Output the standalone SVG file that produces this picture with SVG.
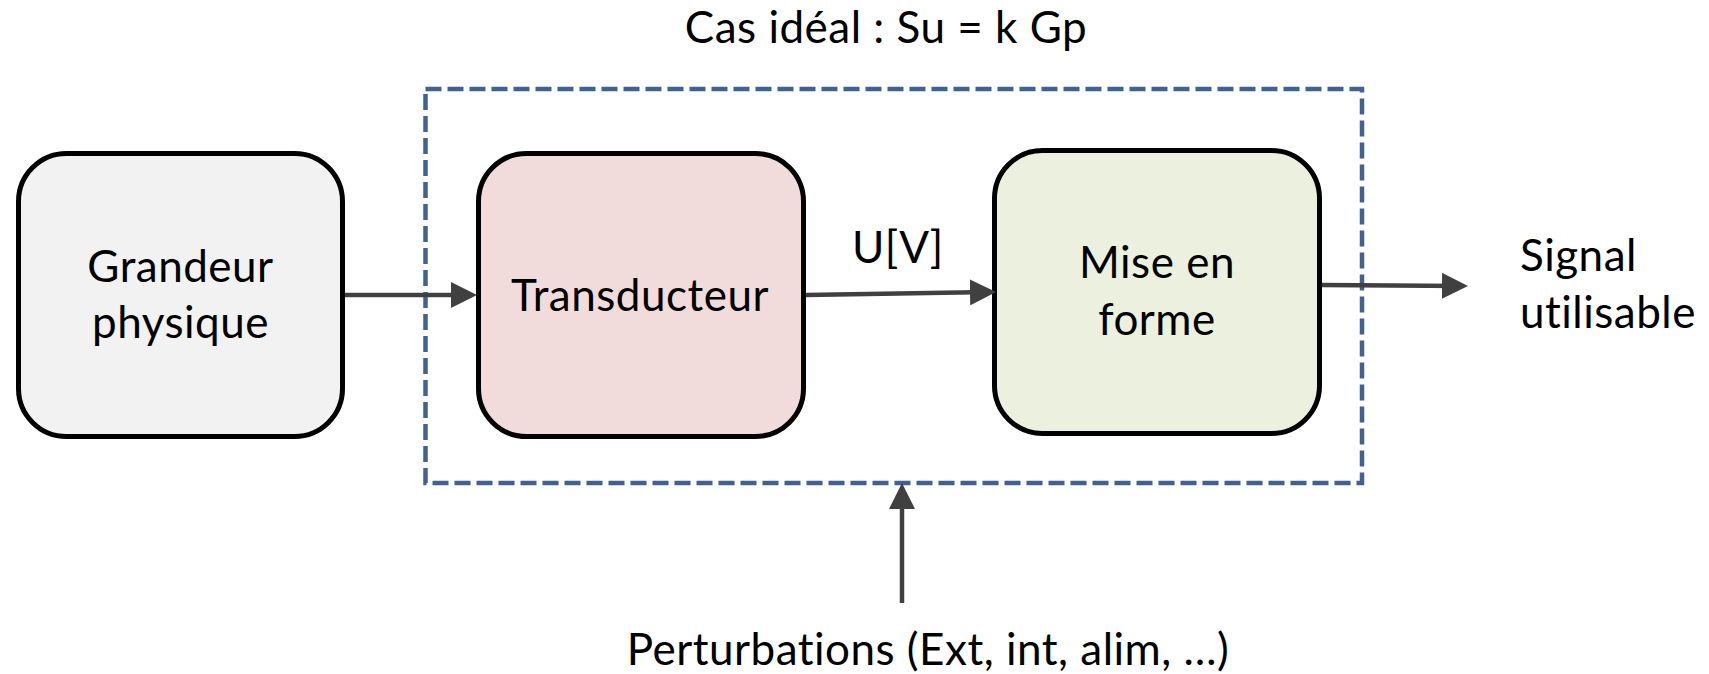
<svg xmlns="http://www.w3.org/2000/svg" width="1709" height="674" viewBox="0 0 1709 674">
  <style>
    .label { font-family: Lato, "Open Sans", "Liberation Sans", sans-serif; font-size: 44px; letter-spacing: 0.5px; fill: #000; }
    .mid { text-anchor: middle; }
    .box { stroke: #000; stroke-width: 5; }
    .link { stroke: #404040; stroke-width: 4.5; fill: none; marker-end: url(#arrow); }
    .frame { fill: none; stroke: #3F6290; stroke-width: 4.5; stroke-dasharray: 16 6; }
  </style>
  <defs>
    <marker id="arrow" markerUnits="userSpaceOnUse" markerWidth="26" markerHeight="26" refX="20" refY="13" orient="auto">
      <path d="M0,0 L26,13 L0,26 Z" fill="#404040"/>
    </marker>
  </defs>

  <rect width="1709" height="674" fill="#fff"/>

  <!-- title -->
  <text class="label mid" x="886" y="43">Cas idéal : Su = k Gp</text>

  <!-- dashed system boundary -->
  <rect id="systeme" class="frame" x="425.5" y="89" width="936.5" height="394"/>

  <!-- nodes -->
  <g id="grandeur">
    <rect class="box" x="18.5" y="153.5" width="324" height="283" rx="48" fill="#F2F2F2"/>
    <text class="label mid" x="180.5" y="282">Grandeur</text>
    <text class="label mid" x="180.5" y="338">physique</text>
  </g>
  <g id="transducteur">
    <rect class="box" x="478.5" y="153.5" width="325" height="283" rx="48" fill="#F2DCDB"/>
    <text class="label mid" x="640" y="311">Transducteur</text>
  </g>
  <g id="mise-en-forme">
    <rect class="box" x="994.5" y="150.5" width="325" height="283" rx="48" fill="#EBF1DE"/>
    <text class="label mid" x="1157" y="278">Mise en</text>
    <text class="label mid" x="1157" y="335">forme</text>
  </g>
  <g id="signal">
    <text class="label" x="1520" y="271">Signal</text>
    <text class="label" x="1520" y="328">utilisable</text>
  </g>
  <g id="perturbations">
    <text class="label mid" x="928" y="665">Perturbations (Ext, int, alim, …)</text>
  </g>

  <!-- connectors -->
  <g id="connectors">
    <line class="link" x1="345" y1="295" x2="471" y2="295"/>
    <line class="link" x1="806" y1="295" x2="990" y2="292.1"/>
    <line class="link" x1="1322" y1="285" x2="1462" y2="286"/>
    <line class="link" x1="902" y1="603" x2="902" y2="489"/>
    <text class="label" x="852" y="263">U[V]</text>
  </g>
</svg>
